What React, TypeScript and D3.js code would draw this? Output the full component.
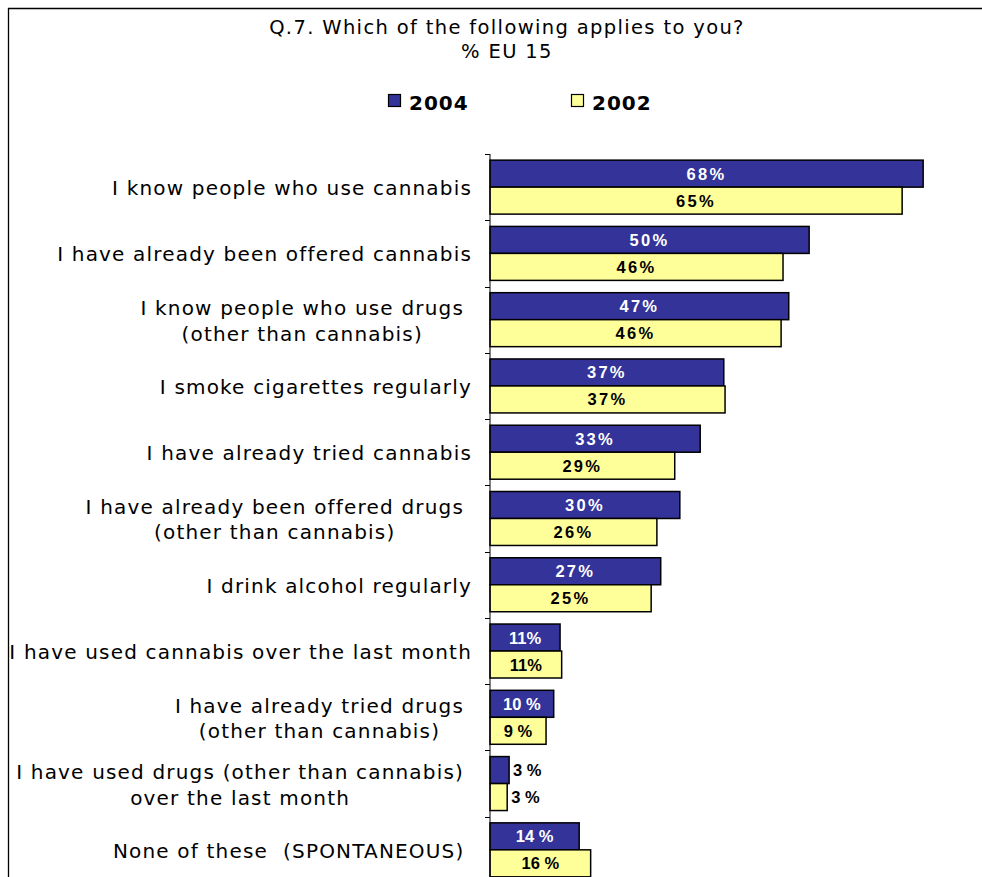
import React, { useEffect, useRef } from "react";
import * as d3 from "d3";

const title = ["Q.7. Which of the following applies to you?", "% EU 15"];
const series = ["2004", "2002"];
const seriesColors = ["#333399", "#FFFF99"];
const categories: string[][] = [
  ["I know people who use cannabis"],
  ["I have already been offered cannabis"],
  ["I know people who use drugs", "(other than cannabis)"],
  ["I smoke cigarettes regularly"],
  ["I have already tried cannabis"],
  ["I have already been offered drugs", "(other than cannabis)"],
  ["I drink alcohol regularly"],
  ["I have used cannabis over the last month"],
  ["I have already tried drugs", "(other than cannabis)"],
  ["I have used drugs (other than cannabis)", "over the last month"],
  ["None of these  (SPONTANEOUS) "],
];
const values2004 = [68.0, 50.1, 46.9, 36.7, 33.0, 29.8, 26.8, 11.0, 10.0, 3.0, 14.0];
const values2002 = [64.7, 46.0, 45.7, 36.9, 29.0, 26.2, 25.3, 11.25, 8.8, 2.7, 15.8];
const labels2004 = ["68%", "50%", "47%", "37%", "33%", "30%", "27%", "11%", "10 %", "3 %", "14 %"];
const labels2002 = ["65%", "46%", "46%", "37%", "29%", "26%", "25%", "11%", "9 %", "3 %", "16 %"];

const W = 982;
const H = 877;
const FONT = "'DejaVu Sans', Verdana, sans-serif";
const BARFONT = "'Liberation Sans', Arial, sans-serif";

export default function App() {
  const ref = useRef<SVGSVGElement | null>(null);

  useEffect(() => {
    const svg = d3.select(ref.current);
    svg.selectAll("*").remove();

    const axisX = 490;
    const top = 154;
    const band = 66.27;
    const x = d3.scaleLinear().domain([0, 100]).range([axisX, axisX + 637]);
    const y = d3
      .scaleBand<number>()
      .domain(categories.map((_, i) => i))
      .range([top, top + band * categories.length]);
    const bw = y.bandwidth();
    const y1 = d3.scaleBand<string>().domain(series).range([6.15, bw - 6.15]);

    // frame
    svg.append("line").attr("x1", 8).attr("x2", W).attr("y1", 8.5).attr("y2", 8.5)
      .attr("stroke", "#000").attr("stroke-width", 1.3);
    svg.append("line").attr("x1", 8.5).attr("x2", 8.5).attr("y1", 8).attr("y2", H)
      .attr("stroke", "#000").attr("stroke-width", 1.3);

    // title
    title.forEach((t, i) => {
      svg.append("text").attr("x", 507).attr("y", 34 + i * 24)
        .attr("text-anchor", "middle").attr("font-family", FONT).attr("font-size", 19.5)
        .attr("letter-spacing", 1.35).attr("fill", "#000").text(t);
    });

    // legend
    const legendX = [388, 571];
    series.forEach((s, i) => {
      svg.append("rect").attr("x", legendX[i] + 0.5).attr("y", 94.5).attr("width", 12).attr("height", 12)
        .attr("fill", seriesColors[i]).attr("stroke", "#000").attr("stroke-width", 1.2);
      svg.append("text").attr("x", legendX[i] + 21).attr("y", 109.5)
        .attr("font-family", FONT).attr("font-weight", "bold").attr("font-size", 20)
        .attr("letter-spacing", 1).attr("fill", "#000").text(s);
    });

    // bars
    const data = [values2004, values2002];
    const labels = [labels2004, labels2002];
    series.forEach((s, si) => {
      categories.forEach((_, ci) => {
        const v = data[si][ci];
        const by = (y(ci) as number) + (y1(s) as number);
        const bh = y1.bandwidth();
        svg.append("rect").attr("x", x(0)).attr("y", by).attr("width", x(v) - x(0)).attr("height", bh)
          .attr("fill", seriesColors[si]).attr("stroke", "#000").attr("stroke-width", 1.5);
        const inside = v > 6;
        const t = svg.append("text")
          .attr("x", inside ? (x(0) + x(v)) / 2 : x(v) + 4)
          .attr("y", by + bh / 2 + 6)
          .attr("text-anchor", inside ? "middle" : "start")
          .attr("font-family", BARFONT).attr("font-weight", "bold").attr("font-size", 16.5)
          .attr("letter-spacing", ci < 7 ? 2.3 : 0)
          .attr("fill", inside && si === 0 ? "#fff" : "#000")
          .text(labels[si][ci]);
        t.style("white-space", "pre");
      });
    });

    // axis
    svg.append("line").attr("x1", axisX).attr("x2", axisX).attr("y1", top).attr("y2", H)
      .attr("stroke", "#000").attr("stroke-width", 1);
    categories.forEach((_, ci) => {
      const ty = Math.round(y(ci) as number) + 0.5;
      svg.append("line").attr("x1", axisX - 5).attr("x2", axisX).attr("y1", ty).attr("y2", ty)
        .attr("stroke", "#000").attr("stroke-width", 1);
    });

    // category labels
    categories.forEach((lines, ci) => {
      const c = (y(ci) as number) + bw / 2;
      if (lines.length === 1) {
        svg.append("text").attr("x", 472).attr("y", c + 8)
          .attr("text-anchor", "end").attr("font-family", FONT).attr("font-size", 20)
          .attr("letter-spacing", 1.18).attr("fill", "#000").style("white-space", "pre")
          .text(lines[0]);
      } else {
        const nodes = lines.map((ln, li) =>
          svg.append("text").attr("y", c + (li === 0 ? -4.5 : 21))
            .attr("text-anchor", "middle").attr("font-family", FONT).attr("font-size", 20)
            .attr("letter-spacing", 1.18).attr("fill", "#000").style("white-space", "pre")
            .text(ln)
        );
        const widths = nodes.map((n) => (n.node() as SVGTextElement).getComputedTextLength());
        const maxW = Math.max(...widths);
        const cx = 464 - maxW / 2;
        nodes.forEach((n) => n.attr("x", cx));
      }
    });
  }, []);

  return (
    <svg
      ref={ref}
      width={W}
      height={H}
      style={{ position: "absolute", left: 0, top: 0, background: "#fff" }}
    />
  );
}
